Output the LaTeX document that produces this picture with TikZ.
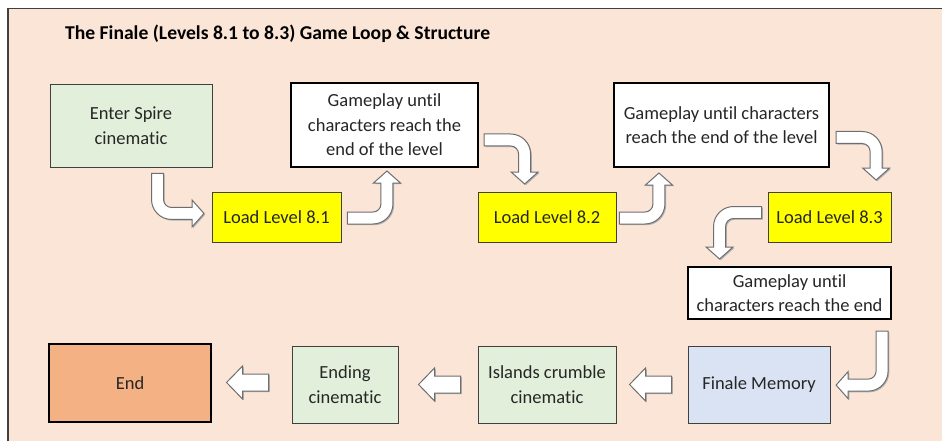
\documentclass[tikz,border=0pt]{standalone}
\usepackage{fontspec}
\setmainfont{Carlito}[Ligatures=NoCommon]
\usetikzlibrary{calc}
\definecolor{bgpeach}{HTML}{FBE5D6}
\definecolor{boxgreen}{HTML}{E2EFDA}
\definecolor{boxyellow}{HTML}{FFFF00}
\definecolor{boxblue}{HTML}{DAE3F3}
\definecolor{boxorange}{HTML}{F4B183}
\definecolor{thinline}{HTML}{404040}
\definecolor{txt}{HTML}{262626}
\definecolor{arrline}{HTML}{6E6E6E}
\tikzset{
  box/.style={draw=thinline, line width=0.9pt, inner sep=0pt, align=center, text=txt,
    font=\fontsize{18.5}{24.5}\selectfont},
  boldbox/.style={box, draw=black, line width=2.2pt},
  blockarrow/.style={draw=arrline, line width=1pt, fill=white, line join=miter,
    preaction={fill=black!30, transform canvas={shift={(1.2pt,-1.2pt)}}}},
}
\newcommand\bentarrow[4]{%
  \begin{scope}[shift={(#2)}, #1]
    \draw[blockarrow] (-6,0) -- (-6,{#3-14})
      .. controls (-6,{#3-14+11.046}) and ({14-11.046},{#3+6}) .. (14,{#3+6})
      -- (#4,{#3+6}) -- (#4,{#3+13.5}) -- ({#4+12},#3) -- (#4,{#3-13.5}) -- (#4,{#3-6})
      -- (14,{#3-6})
      .. controls ({14-4.418},{#3-6}) and (6,{#3-14+4.418}) .. (6,{#3-14})
      -- (6,0) -- cycle;
  \end{scope}}
\newcommand\leftblockarrow[1]{%
  \begin{scope}[shift={(#1)}]
    \draw[blockarrow] (0,-8.5) -- (-26,-8.5) -- (-26,-16.5) -- (-42,0) -- (-26,16.5)
      -- (-26,8.5) -- (0,8.5) -- cycle;
  \end{scope}}
\begin{document}
\begin{tikzpicture}[x=1pt, y=-1pt]
\useasboundingbox (0,0) rectangle (942,441);
\fill[white] (0,0) rectangle (942,441);
\fill[bgpeach] (8,8) rectangle (942,441);
\draw[black!75, line width=1.3pt] (8,441) -- (8,8.5) -- (942,8.5);

\node[anchor=west, text=black, inner sep=0pt, font=\fontsize{19.6}{23}\selectfont\bfseries] (title) at (65,34)
  {The Finale (Levels 8.1 to 8.3) Game Loop \& Structure};

\node[box, fill=boxgreen, minimum width=162, minimum height=83] (enter) at (131,125.5)
  {Enter Spire\\cinematic};
\node[boldbox, fill=white, minimum width=187, minimum height=84] (g1) at (384.5,125)
  {Gameplay until\\characters reach the\\end of the level};
\node[box, fill=boxyellow, minimum width=129, minimum height=50] (l81) at (276.5,217)
  {Load Level 8.1};
\node[box, fill=boxyellow, minimum width=138, minimum height=50] (l82) at (547,217)
  {Load Level 8.2};
\node[boldbox, fill=white, minimum width=215, minimum height=84] (g2) at (721.5,125)
  {Gameplay until characters\\reach the end of the level};
\node[box, fill=boxyellow, minimum width=123, minimum height=50] (l83) at (829.5,217)
  {Load Level 8.3};
\node[boldbox, fill=white, minimum width=203, minimum height=52] (g3) at (789.5,293)
  {Gameplay until\\characters reach the end};
\node[box, fill=boxblue, minimum width=142, minimum height=77] (fm) at (759,384.5)
  {Finale Memory};
\node[box, fill=boxgreen, minimum width=138, minimum height=77] (isl) at (547,384.5)
  {Islands crumble\\cinematic};
\node[box, fill=boxgreen, minimum width=106, minimum height=77] (endc) at (345,384.5)
  {Ending\\cinematic};
\node[boldbox, fill=boxorange, minimum width=162, minimum height=78] (end) at (130,383)
  {End};

\coordinate (s1) at ($(enter.south)+(26.5,6)$);
\coordinate (s2) at ($(l81.east)+(6,1)$);
\coordinate (s3) at ($(g1.east)+(5,15)$);
\coordinate (s4) at ($(l82.east)+(3,1)$);
\coordinate (s5) at ($(g2.east)+(6,12.5)$);
\coordinate (s6) at ($(l83.west)+(-6,-4.5)$);
\coordinate (s7) at ($(g3.south east)+(-10,11)$);
\coordinate (s8) at ($(fm.west)+(-16,0)$);
\coordinate (s9) at ($(isl.west)+(-17,0)$);
\coordinate (s10) at ($(endc.west)+(-23,-2)$);

\bentarrow{}{s1}{40}{34.5}
\bentarrow{rotate=90}{s2}{39.5}{35}
\bentarrow{cm={0,-1,-1,0,(0,0)}}{s3}{40.5}{32}
\bentarrow{rotate=90}{s4}{39.5}{33}
\bentarrow{cm={0,-1,-1,0,(0,0)}}{s5}{40}{30.5}
\bentarrow{rotate=-90}{s6}{42}{34.5}
\bentarrow{xscale=-1}{s7}{54}{34}
\leftblockarrow{s8}
\leftblockarrow{s9}
\leftblockarrow{s10}
\end{tikzpicture}
\end{document}
